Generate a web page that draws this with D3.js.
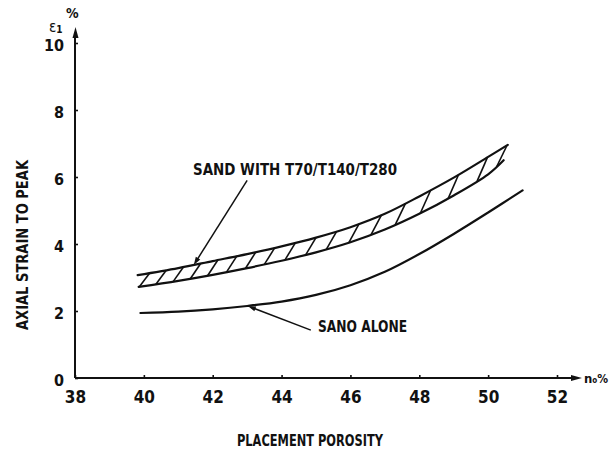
<!DOCTYPE html>
<html>
<head>
<meta charset="utf-8">
<script src="https://cdn.jsdelivr.net/npm/d3@7"></script>
<style>
    body { margin: 0; background: #fff; }
    svg text {
        font-family: "DejaVu Sans Condensed", "Liberation Sans Narrow", sans-serif;
        font-weight: bold;
        fill: #111;
    }
</style>
</head>
<body>
<div id="chart"></div>
<script>
// ============================================================================
// data
// ============================================================================

const xTicks = [38, 40, 42, 44, 46, 48, 50, 52];
const yTicks = [0, 2, 4, 6, 8, 10];

// sand alone
const sandAloneX = [39.9, 41, 42, 43, 44, 45, 46, 47, 48, 49, 50, 51.0];
const sandAloneY = [1.94, 1.98, 2.05, 2.15, 2.28, 2.48, 2.77, 3.17, 3.7, 4.3, 4.94, 5.6];

// sand with T70/T140/T280 : upper and lower bound of the hatched band
const upperX = [39.82, 41, 42, 43, 44, 45, 46, 47, 48, 49, 50, 50.57];
const upperY = [3.07, 3.28, 3.49, 3.7, 3.93, 4.19, 4.5, 4.9, 5.42, 5.98, 6.6, 6.96];
const lowerX = [39.85, 41, 42, 43, 44, 45, 46, 47, 48, 49, 50, 50.45];
const lowerY = [2.72, 2.9, 3.08, 3.28, 3.5, 3.75, 4.05, 4.43, 4.9, 5.45, 6.08, 6.5];

// hatch strokes, porosity where each one leaves the lower bound
const hatchX = [39.87, 40.35, 40.85, 41.35, 41.85, 42.4, 42.95, 43.5, 44.1,
                44.7, 45.3, 45.95, 46.6, 47.3, 48.03, 48.84, 49.68, 50.25];

// ============================================================================
// drawing
// ============================================================================

const width = 610;
const height = 452;

const x = d3.scaleLinear().domain([38, 52]).range([75, 557]);
const y = d3.scaleLinear().domain([0, 10]).range([378, 43]);

const svg = d3.select("#chart")
    .append("svg")
    .attr("width", width)
    .attr("height", height);

// ---- axes
const yAxis = svg.append("g")
    .attr("transform", `translate(${x(38)},0)`)
    .call(d3.axisLeft(y).tickValues(yTicks).tickSizeInner(-3).tickSizeOuter(0).tickPadding(11));

const xAxis = svg.append("g")
    .attr("transform", `translate(0,${y(0)})`)
    .call(d3.axisBottom(x).tickValues(xTicks).tickSizeInner(-3).tickSizeOuter(0).tickPadding(13));

// the domain paths are replaced by arrows below
yAxis.select(".domain").remove();
xAxis.select(".domain").remove();

svg.selectAll(".tick line").attr("stroke", "#111").attr("stroke-width", 1.6);
yAxis.selectAll("text").attr("font-size", 16).attr("dy", "0.45em");
xAxis.selectAll("text").attr("font-size", 17);

// axis lines with arrow heads
const axisG = svg.append("g").attr("stroke", "#111").attr("stroke-width", 2);
axisG.append("line")
    .attr("x1", x(38)).attr("y1", y(0))
    .attr("x2", x(38)).attr("y2", 34);
axisG.append("line")
    .attr("x1", x(38)).attr("y1", y(0))
    .attr("x2", 574).attr("y2", y(0));

svg.append("path")
    .attr("d", `M${x(38) + 0.5},27 L${x(38) - 2.5},38 L${x(38) + 3.5},38 Z`)
    .attr("fill", "#111");
svg.append("path")
    .attr("d", `M582,${y(0)} L571,${y(0) - 3} L571,${y(0) + 3} Z`)
    .attr("fill", "#111");

// ---- curves
const line = d3.line()
    .x(d => x(d[0]))
    .y(d => y(d[1]))
    .curve(d3.curveCatmullRom.alpha(0.5));

const curves = svg.append("g")
    .attr("fill", "none")
    .attr("stroke", "#111")
    .attr("stroke-width", 2.2)
    .attr("stroke-linecap", "round");

curves.append("path").attr("d", line(d3.zip(sandAloneX, sandAloneY)));
curves.append("path").attr("d", line(d3.zip(upperX, upperY)));
curves.append("path").attr("d", line(d3.zip(lowerX, lowerY)));

// hatching between the two bounds
const upperAt = d3.scaleLinear().domain(upperX).range(upperY);
const lowerAt = d3.scaleLinear().domain(lowerX).range(lowerY);
const hatchShift = 0.3;

svg.append("g")
    .attr("stroke", "#111")
    .attr("stroke-width", 1.6)
  .selectAll("line")
  .data(hatchX)
  .join("line")
    .attr("x1", d => x(d))
    .attr("y1", d => y(lowerAt(d)))
    .attr("x2", d => x(Math.min(d + hatchShift, 50.57)))
    .attr("y2", d => y(upperAt(Math.min(d + hatchShift, 50.57))));

// ---- annotations
function leader(fromX, fromY, toX, toY) {
    const x1 = x(fromX), y1 = y(fromY), x2 = x(toX), y2 = y(toY);
    const a = Math.atan2(y2 - y1, x2 - x1);
    const len = 8, w = 2.6;
    svg.append("line")
        .attr("x1", x1).attr("y1", y1)
        .attr("x2", x2 - Math.cos(a) * 4).attr("y2", y2 - Math.sin(a) * 4)
        .attr("stroke", "#111").attr("stroke-width", 1.5);
    const bx = x2 - Math.cos(a) * len, by = y2 - Math.sin(a) * len;
    svg.append("path")
        .attr("d", `M${x2},${y2} L${bx - Math.sin(a) * w},${by + Math.cos(a) * w} L${bx + Math.sin(a) * w},${by - Math.cos(a) * w} Z`)
        .attr("fill", "#111");
}

leader(43.0, 5.9, 41.45, upperAt(41.45));
leader(44.85, 1.43, 43.02, 2.15);

svg.append("text")
    .attr("x", 193).attr("y", 175)
    .attr("font-size", 16)
    .attr("textLength", 204)
    .attr("lengthAdjust", "spacingAndGlyphs")
    .text("SAND  WITH T70/T140/T280");

svg.append("text")
    .attr("x", 318).attr("y", 332)
    .attr("font-size", 16)
    .attr("textLength", 89)
    .attr("lengthAdjust", "spacingAndGlyphs")
    .text("SANO  ALONE");

// axis titles
svg.append("text")
    .attr("transform", "translate(28,245) rotate(-90)")
    .attr("text-anchor", "middle")
    .attr("font-size", 16)
    .attr("textLength", 170)
    .attr("lengthAdjust", "spacingAndGlyphs")
    .text("AXIAL STRAIN TO PEAK");

svg.append("text")
    .attr("x", 310).attr("y", 446)
    .attr("text-anchor", "middle")
    .attr("font-size", 16)
    .attr("textLength", 146)
    .attr("lengthAdjust", "spacingAndGlyphs")
    .text("PLACEMENT POROSITY");

// unit labels at the arrow ends
const eps = svg.append("text").attr("x", 49).attr("y", 32).attr("font-size", 15);
eps.append("tspan").attr("font-weight", "normal").text("ε");
eps.append("tspan").attr("font-size", 10).attr("dy", 1).text("1");
svg.append("text").attr("x", 66).attr("y", 18).attr("font-size", 14).text("%");

const n0 = svg.append("text").attr("x", 584).attr("y", 383).attr("font-size", 13);
n0.append("tspan").text("n");
n0.append("tspan").attr("font-size", 8).text("o");
n0.append("tspan").attr("font-size", 12).text("%");
</script>
</body>
</html>
